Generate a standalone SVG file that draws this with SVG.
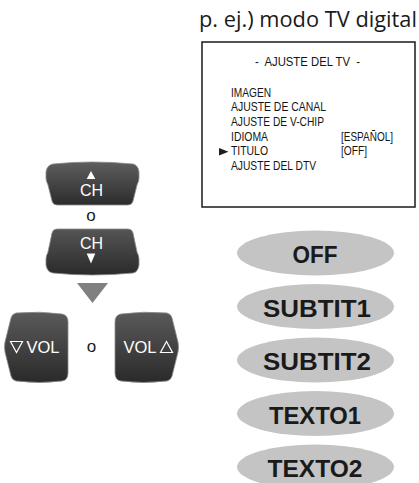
<svg xmlns="http://www.w3.org/2000/svg" width="419" height="483" viewBox="0 0 419 483">
<style>
.btn{stroke:#8a8a8a;stroke-width:0.8}
.btxt{font-family:"Liberation Sans",Arial,sans-serif;fill:#ffffff;font-size:16px}
.tri{fill:#ffffff}
.otri{fill:none;stroke:#ffffff;stroke-width:1.2;stroke-linejoin:miter}
.o{font-family:"Liberation Sans",Arial,sans-serif;font-size:17px;fill:#1a1a1a;text-anchor:middle}
.menu{font-family:"Liberation Sans",Arial,sans-serif;font-size:12.5px;fill:#141414}
.pill{fill:#c4c4c4}
.ptxt{font-family:"Liberation Sans",Arial,sans-serif;font-weight:bold;font-size:23px;fill:#1a1a1a;text-anchor:middle}
</style>
<defs>
<linearGradient id="gUp" x1="0" y1="0" x2="0" y2="1">
<stop offset="0" stop-color="#5e5e5e"/><stop offset="1" stop-color="#2c2c2c"/>
</linearGradient>
<linearGradient id="gDn" x1="0" y1="0" x2="0" y2="1">
<stop offset="0" stop-color="#555555"/><stop offset="1" stop-color="#2a2a2a"/>
</linearGradient>
<linearGradient id="gVol" x1="0" y1="0" x2="0" y2="1">
<stop offset="0" stop-color="#5a5a5a"/><stop offset="1" stop-color="#2a2a2a"/>
</linearGradient>
</defs>

<g id="header">
<text x="199" y="27" font-family="'Open Sans','Noto Sans',sans-serif" font-size="21" fill="#1a1a1a" textLength="218" lengthAdjust="spacingAndGlyphs">p. ej.) modo TV digital</text>
</g>

<g id="tv-menu">
<rect x="202" y="42" width="213" height="165" fill="#ffffff" stroke="#1a1a1a" stroke-width="1.5"/>
<text class="menu" x="255" y="65.5" xml:space="preserve" style="white-space:pre" textLength="105" lengthAdjust="spacingAndGlyphs">-  AJUSTE DEL TV  -</text>
<text class="menu" x="231" y="96.5" textLength="40" lengthAdjust="spacingAndGlyphs">IMAGEN</text>
<text class="menu" x="231" y="111.2" textLength="95" lengthAdjust="spacingAndGlyphs">AJUSTE DE CANAL</text>
<text class="menu" x="231" y="125.9" textLength="93" lengthAdjust="spacingAndGlyphs">AJUSTE DE V-CHIP</text>
<text class="menu" x="231" y="140.6" textLength="37" lengthAdjust="spacingAndGlyphs">IDIOMA</text>
<text class="menu" x="341" y="140.6" textLength="52" lengthAdjust="spacingAndGlyphs">[ESPAÑOL]</text>
<polygon points="219,148 228.5,151.8 219,155.5" fill="#1e1e1e"/>
<text class="menu" x="231" y="155.3" textLength="37" lengthAdjust="spacingAndGlyphs">TITULO</text>
<text class="menu" x="341" y="155.3" textLength="26" lengthAdjust="spacingAndGlyphs">[OFF]</text>
<text class="menu" x="231" y="170" textLength="85" lengthAdjust="spacingAndGlyphs">AJUSTE DEL DTV</text>
</g>

<g id="btn-ch-up">
<path class="btn" fill="url(#gUp)" d="M 53,164 Q 92,160 133,164 Q 138,165 139,172 L 139,178 Q 139,181 137,185 L 133,201 Q 132,205 128,205 L 57,205 Q 53,205 52,201 L 48,185 Q 46,181 46,178 L 46,172 Q 47,165 53,164 Z"/>
<polygon class="tri" points="91,171 95.3,179 86.7,179"/>
<text class="btxt" x="91.5" y="195.5" text-anchor="middle">CH</text>
</g>

<text class="o" x="91" y="221">o</text>

<g id="btn-ch-down">
<path class="btn" fill="url(#gDn)" d="M 53,273 Q 92,277 133,273 Q 138,272 139,265 L 139,259 Q 139,256 137,252 L 133,233 Q 132,229 128,229 L 57,229 Q 53,229 52,233 L 48,252 Q 46,256 46,259 L 46,265 Q 47,272 53,273 Z"/>
<text class="btxt" x="91.5" y="249.3" text-anchor="middle">CH</text>
<polygon class="tri" points="86.7,253.5 95.3,253.5 91,263.5"/>
</g>

<g id="connectors">
<polygon points="77,283 108,283 92.5,303" fill="#808080"/>
</g>

<g id="btn-vol-down">
<path class="btn" fill="url(#gVol)" d="M 16,313 Q 40,311 62,314 Q 68,315 68,322 L 68,373 Q 68,380 62,381 Q 40,384 16,381 Q 12,380 11,376 L 5,352 Q 4,347 5,342 L 11,318 Q 12,314 16,313 Z"/>
<polygon class="otri" points="10.5,341.5 22.5,341.5 16.5,352.5"/>
<text class="btxt" x="26.5" y="353" style="font-size:16.5px">VOL</text>
</g>

<text class="o" x="91.5" y="352">o</text>

<g id="btn-vol-up">
<path class="btn" fill="url(#gVol)" d="M 167,313 Q 143,311 121,314 Q 115,315 115,322 L 115,373 Q 115,380 121,381 Q 143,384 167,381 Q 171,380 172,376 L 178,352 Q 179,347 178,342 L 172,318 Q 171,314 167,313 Z"/>
<text class="btxt" x="123.5" y="353" style="font-size:16.5px">VOL</text>
<polygon class="otri" points="166.5,341.5 172.5,352.5 160.5,352.5"/>
</g>

<g id="opt-off">
<ellipse class="pill" cx="315.5" cy="253" rx="78.5" ry="22.5"/>
<text class="ptxt" x="315" y="263" textLength="45" lengthAdjust="spacingAndGlyphs">OFF</text>
</g>
<g id="opt-subtit1">
<ellipse class="pill" cx="315.5" cy="306.5" rx="78.5" ry="22.5"/>
<text class="ptxt" x="317" y="316.5" textLength="108" lengthAdjust="spacingAndGlyphs">SUBTIT1</text>
</g>
<g id="opt-subtit2">
<ellipse class="pill" cx="315.5" cy="360" rx="78.5" ry="22.5"/>
<text class="ptxt" x="317" y="370" textLength="108" lengthAdjust="spacingAndGlyphs">SUBTIT2</text>
</g>
<g id="opt-texto1">
<ellipse class="pill" cx="315.5" cy="413.5" rx="78.5" ry="22.5"/>
<text class="ptxt" x="315" y="423.5" textLength="92" lengthAdjust="spacingAndGlyphs">TEXTO1</text>
</g>
<g id="opt-texto2">
<ellipse class="pill" cx="315.5" cy="467" rx="78.5" ry="22.5"/>
<text class="ptxt" x="315" y="477" textLength="95" lengthAdjust="spacingAndGlyphs">TEXTO2</text>
</g>
</svg>
